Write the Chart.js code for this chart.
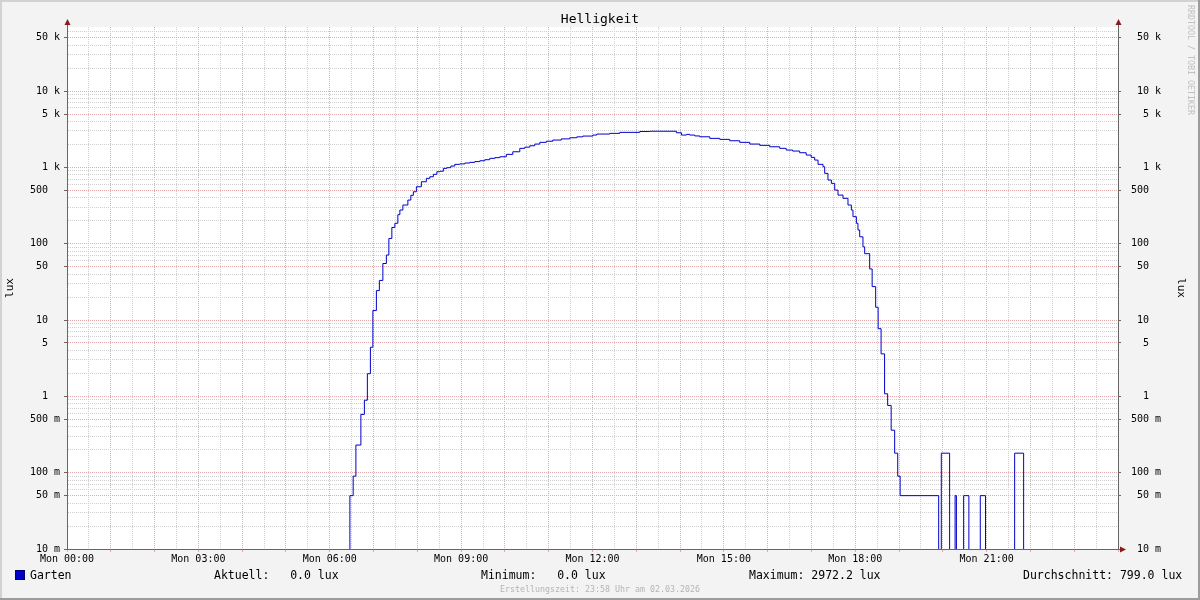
<!DOCTYPE html>
<html>
<head>
<meta charset="utf-8">
<title>Helligkeit</title>
<script src="https://cdn.jsdelivr.net/npm/chart.js@4"></script>
<style>
  html, body { margin: 0; padding: 0; background: #f3f3f3; }
  canvas { display: block; }
</style>
</head>
<body>
<canvas id="chart" width="1200" height="600"></canvas>
<script>
// Messwerte: Beginn der Stufe (Stunde des Tages) und Helligkeit in lux
const hours = [0, 6.46, 6.535, 6.597, 6.711, 6.791, 6.859, 6.928, 6.985, 7.065,
    7.133, 7.213, 7.293, 7.35, 7.418, 7.487, 7.555, 7.601, 7.67, 7.784,
    7.852, 7.909, 7.978, 8.092, 8.206, 8.286, 8.366, 8.446, 8.514, 8.594,
    8.674, 8.765, 8.856, 8.97, 9.085, 9.199, 9.313, 9.427, 9.541, 9.655,
    9.77, 9.884, 10.032, 10.18, 10.34, 10.454, 10.568, 10.682, 10.797, 10.945,
    11.093, 11.287, 11.481, 11.641, 11.778, 12.006, 12.097, 12.394, 12.622, 13.079,
    13.307, 13.917, 14.031, 14.145, 14.22, 14.335, 14.449, 14.677, 14.906, 15.134,
    15.362, 15.59, 15.819, 16.047, 16.275, 16.423, 16.571, 16.731, 16.88, 16.994,
    17.074, 17.15, 17.264, 17.302, 17.377, 17.455, 17.531, 17.606, 17.72, 17.834,
    17.911, 17.948, 18.026, 18.062, 18.101, 18.176, 18.215, 18.329, 18.386, 18.466,
    18.523, 18.59, 18.67, 18.74, 18.82, 18.9, 18.97, 19.025, 19.905, 19.965,
    20.155, 20.28, 20.31, 20.475, 20.595, 20.855, 20.975, 21.64, 21.845, 24];
const lux = [0, 0.05, 0.09, 0.23, 0.58, 0.89, 1.98, 4.4, 13.3, 24.3,
    33, 55, 71, 117, 163, 185, 240, 276, 321, 373,
    430, 479, 557, 648, 718, 753, 810, 876, 890, 970,
    990, 1040, 1095, 1110, 1140, 1163, 1190, 1220, 1260, 1312,
    1340, 1377, 1480, 1601, 1774, 1840, 1919, 2020, 2126, 2200,
    2279, 2360, 2442, 2510, 2570, 2650, 2731, 2789, 2874, 2950,
    2972, 2840, 2650, 2704, 2650, 2580, 2516, 2398, 2327, 2231,
    2126, 2020, 1942, 1861, 1774, 1685, 1635, 1554, 1449, 1352,
    1246, 1095, 1018, 834, 682, 617, 504, 433, 393, 321,
    276, 226, 185, 151, 123, 91, 74, 46.7, 27.4, 14.7,
    7.7, 3.6, 1.08, 0.76, 0.36, 0.18, 0.09, 0.05, 0, 0.18,
    0, 0.05, 0, 0.05, 0, 0.05, 0, 0.18, 0, 0];

const labelHours = [0, 3, 6, 9, 12, 15, 18, 21];
const seriesName = 'Garten';
const statNames = ['Aktuell', 'Minimum', 'Maximum', 'Durchschnitt'];
const statValues = [0.0, 0.0, 2972.2, 799.0];

const yMin = 0.01;
const yMax = 69000;
const zeroFloor = 0.005; // 0 lux liegt unterhalb der Achse

const mono = '"DejaVu Sans Mono", monospace';
const lineColor = '#0000cc';
const majorGrid = '#e4a9a9';
const minorGrid = '#cfcfcf';
const axisColor = '#666666';

// Rasterpositionen
const halfHours = [];
for (let h = 0; h <= 24; h += 0.5) halfHours.push(h);
const yTicks = [];
for (let e = -2; e <= 4; e++) {
    for (let m = 1; m <= 9; m++) {
        const v = +(m * Math.pow(10, e)).toPrecision(3);
        if (v >= yMin && v <= yMax) yTicks.push(v);
    }
}

function mantissa(v) {
    return Math.round(v / Math.pow(10, Math.floor(Math.log10(v) + 1e-9)));
}
function isMajor(v) {
    if (v === undefined) return false;
    const m = mantissa(v);
    return m === 1 || m === 5;
}
function fmtLux(v) {
    if (!isMajor(v)) return '';
    let s;
    if (v >= 1000) s = Math.round(v / 1000) + ' k';
    else if (v >= 1) s = Math.round(v) + '  ';
    else s = Math.round(v * 1000) + ' m';
    return s.padStart(5);
}
function fmtHour(v) {
    return labelHours.includes(v) ? 'Mon ' + String(v).padStart(2, '0') + ':00' : '';
}

const points = hours.map((h, i) => ({ x: h, y: lux[i] === 0 ? zeroFloor : lux[i] }));

const rrdFrame = {
    id: 'rrdFrame',
    beforeDraw(chart) {
        const { ctx, chartArea: a, width, height } = chart;
        ctx.save();
        ctx.fillStyle = '#f3f3f3';
        ctx.fillRect(0, 0, width, height);
        ctx.fillStyle = '#ffffff';
        ctx.fillRect(a.left, a.top, a.right - a.left, a.bottom - a.top);
        // Rahmen
        ctx.fillStyle = '#d2d2d2';
        ctx.fillRect(0, 0, width, 2);
        ctx.fillRect(0, 0, 2, height);
        ctx.fillStyle = '#9c9c9c';
        ctx.fillRect(0, height - 2, width, 2);
        ctx.fillRect(width - 2, 0, 2, height);
        ctx.restore();
    },
    afterDraw(chart) {
        const { ctx, chartArea: a } = chart;
        ctx.save();
        // Achsenverlaengerung + Pfeile
        ctx.strokeStyle = axisColor;
        ctx.lineWidth = 1;
        ctx.beginPath();
        ctx.moveTo(a.left + 0.5, a.top);
        ctx.lineTo(a.left + 0.5, a.top - 3);
        ctx.moveTo(a.right + 0.5, a.top);
        ctx.lineTo(a.right + 0.5, a.top - 3);
        ctx.moveTo(a.right, a.bottom + 0.5);
        ctx.lineTo(a.right + 3, a.bottom + 0.5);
        ctx.stroke();
        ctx.fillStyle = '#8b1a1a';
        [a.left, a.right].forEach(x => {
            ctx.beginPath();
            ctx.moveTo(x - 2.5, a.top - 2);
            ctx.lineTo(x + 3.5, a.top - 2);
            ctx.lineTo(x + 0.5, a.top - 8);
            ctx.closePath();
            ctx.fill();
        });
        ctx.beginPath();
        ctx.moveTo(a.right + 2, a.bottom - 2.5);
        ctx.lineTo(a.right + 2, a.bottom + 3.5);
        ctx.lineTo(a.right + 8, a.bottom + 0.5);
        ctx.closePath();
        ctx.fill();

        // Legende
        ctx.fillStyle = lineColor;
        ctx.fillRect(15, 570, 10, 10);
        ctx.strokeStyle = '#000066';
        ctx.strokeRect(15.5, 570.5, 9, 9);
        ctx.fillStyle = '#000000';
        ctx.font = '11.5px ' + mono;
        ctx.textBaseline = 'middle';
        ctx.textAlign = 'left';
        ctx.fillText(seriesName, 30, 576);
        const statX = [214, 481, 749, 1023];
        statNames.forEach((n, i) => {
            ctx.fillText(n + ': ' + statValues[i].toFixed(1).padStart(5) + ' lux', statX[i], 576);
        });

        // Fusszeile
        ctx.fillStyle = '#b4b4b4';
        ctx.font = '8.3px ' + mono;
        ctx.textAlign = 'center';
        ctx.fillText('Erstellungszeit: 23:58 Uhr am 02.03.2026', 600, 590);

        // Wasserzeichen
        ctx.translate(1190, 5);
        ctx.rotate(Math.PI / 2);
        ctx.textAlign = 'left';
        ctx.fillStyle = '#c0c0c0';
        ctx.fillText('RRDTOOL / TOBI OETIKER', 0, 0);
        ctx.restore();
    }
};

const tickFont = { family: mono, size: 10 };

new Chart(document.getElementById('chart'), {
    type: 'line',
    data: {
        datasets: [{
            label: seriesName,
            data: points,
            borderColor: lineColor,
            borderWidth: 1,
            pointRadius: 0,
            stepped: true,
            fill: false
        }]
    },
    options: {
        responsive: false,
        animation: false,
        events: [],
        layout: { padding: 0 },
        plugins: {
            legend: { display: false },
            tooltip: { enabled: false },
            title: {
                display: true,
                text: 'Helligkeit',
                color: '#000000',
                font: { family: mono, size: 13, weight: 'normal', lineHeight: 1.1 },
                padding: { top: 12.7, bottom: 0 }
            }
        },
        scales: {
            x: {
                type: 'linear',
                min: 0,
                max: 24,
                afterBuildTicks: s => { s.ticks = halfHours.map(v => ({ value: v })); },
                afterFit: s => { s.height = 51; },
                grid: {
                    color: c => (c.tick && Number.isInteger(c.tick.value)) ? majorGrid : minorGrid,
                    tickColor: c => (c.tick && Number.isInteger(c.tick.value)) ? majorGrid : 'rgba(0,0,0,0)',
                    tickLength: 3
                },
                border: { display: true, color: axisColor, dash: [1, 1] },
                ticks: {
                    autoSkip: false,
                    maxRotation: 0,
                    padding: 1,
                    font: tickFont,
                    color: '#000000',
                    callback: v => fmtHour(v)
                }
            },
            y: {
                type: 'logarithmic',
                position: 'left',
                min: yMin,
                max: yMax,
                afterBuildTicks: s => { s.ticks = yTicks.map(v => ({ value: v })); },
                afterFit: s => { s.width = 67; },
                grid: {
                    color: c => isMajor(c.tick && c.tick.value) ? majorGrid : minorGrid,
                    tickColor: c => isMajor(c.tick && c.tick.value) ? axisColor : 'rgba(0,0,0,0)',
                    tickLength: 3
                },
                border: { display: true, color: axisColor, dash: [1, 1] },
                ticks: {
                    autoSkip: false,
                    padding: 4,
                    font: tickFont,
                    color: '#000000',
                    callback: v => fmtLux(v)
                },
                title: {
                    display: true,
                    text: 'lux',
                    color: '#000000',
                    font: { family: mono, size: 11 },
                    padding: { top: 4, bottom: 0 }
                }
            },
            y2: {
                type: 'logarithmic',
                position: 'right',
                min: yMin,
                max: yMax,
                afterBuildTicks: s => { s.ticks = yTicks.map(v => ({ value: v })); },
                afterFit: s => { s.width = 82; },
                grid: {
                    drawOnChartArea: false,
                    tickColor: c => isMajor(c.tick && c.tick.value) ? axisColor : 'rgba(0,0,0,0)',
                    tickLength: 3
                },
                border: { display: true, color: axisColor },
                ticks: {
                    autoSkip: false,
                    padding: 10,
                    font: tickFont,
                    color: '#000000',
                    callback: v => fmtLux(v)
                },
                title: {
                    display: true,
                    text: 'lux',
                    color: '#000000',
                    font: { family: mono, size: 11 },
                    padding: { top: 13, bottom: 0 }
                }
            }
        }
    },
    plugins: [rrdFrame]
});
</script>
</body>
</html>
